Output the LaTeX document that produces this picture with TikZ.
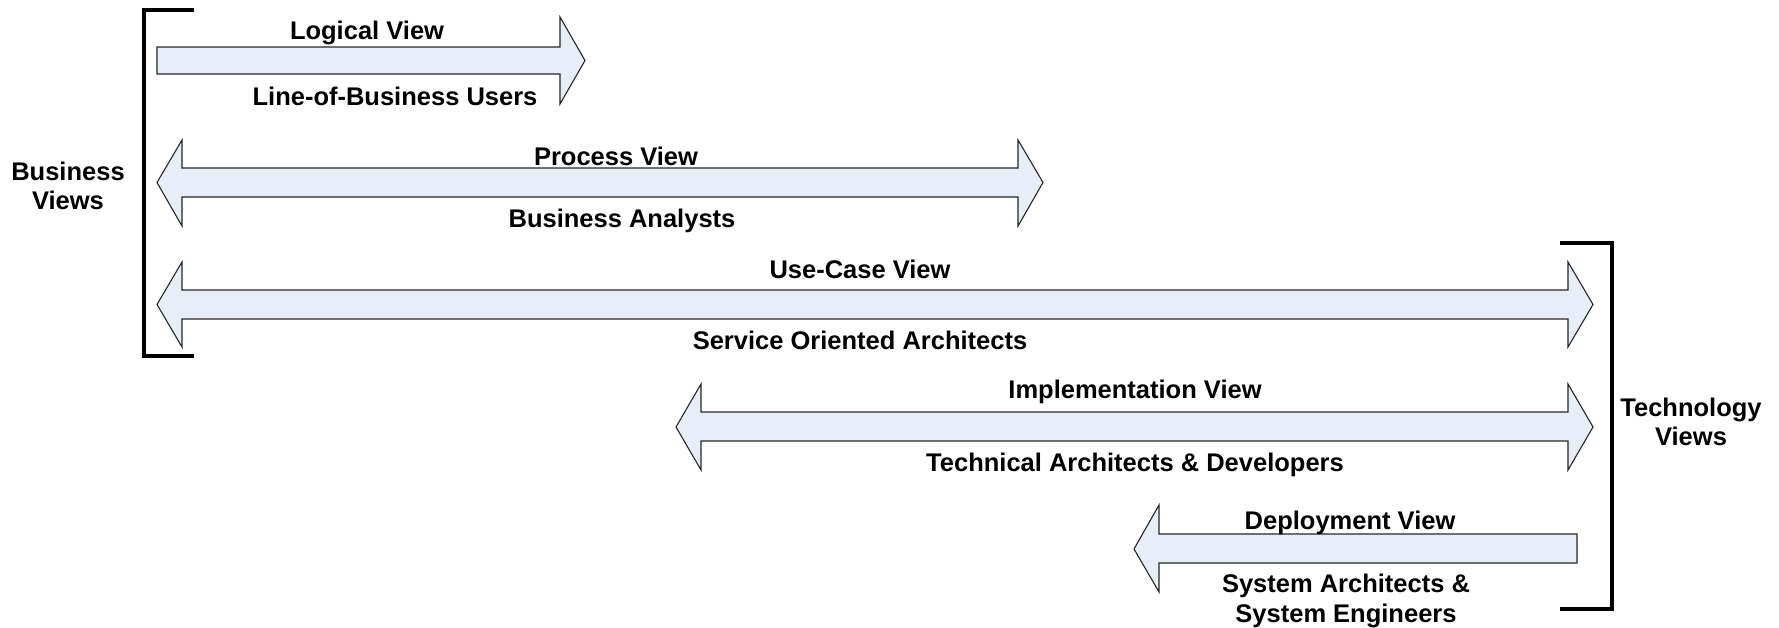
\documentclass[tikz,border=0pt]{standalone}
\usepackage{fontspec}
\setmainfont{Liberation Sans}
\definecolor{arrowfill}{RGB}{232,238,248}
\begin{document}
\begin{tikzpicture}[x=1pt,y=-1pt,
  arrowshape/.style={draw=black!85,line width=1.1pt,fill=arrowfill,line join=miter},
  bracketline/.style={draw=black,line width=4pt,line cap=butt,line join=miter},
  lbl/.style={font=\fontsize{25.5}{29.5}\selectfont\bfseries,inner sep=0pt,align=center}]
\useasboundingbox (0,0) rectangle (1779,627);
% brackets
\draw[bracketline] (194,10) -- (144,10) -- (144,356) -- (194,356);
\draw[bracketline] (1560,243) -- (1612,243) -- (1612,609) -- (1560,609);
% arrows
\path[arrowshape] (157,47) -- (560,47) -- (560,17) -- (585,60.5) -- (560,104) -- (560,74) -- (157,74) -- cycle;
\path[arrowshape] (157,182.5) -- (182,140) -- (182,168) -- (1018,168) -- (1018,140) -- (1043,182.5) -- (1018,226) -- (1018,197) -- (182,197) -- (182,226) -- cycle;
\path[arrowshape] (157,304.5) -- (182,262) -- (182,290) -- (1568,290) -- (1568,262) -- (1593,304.5) -- (1568,347) -- (1568,319) -- (182,319) -- (182,347) -- cycle;
\path[arrowshape] (676,427) -- (701,384) -- (701,412) -- (1568,412) -- (1568,384) -- (1593,427) -- (1568,470) -- (1568,441) -- (701,441) -- (701,470) -- cycle;
\path[arrowshape] (1134,549) -- (1159,505) -- (1159,534) -- (1577,534) -- (1577,563) -- (1159,563) -- (1159,592) -- cycle;
% labels
\node[lbl] (logical) at (367,33) {Logical View};
\node[lbl] (lob) at (395,96) {Line-of-Business Users};
\node[lbl] (process) at (616,156) {Process View};
\node[lbl] (ba) at (622,221) {Business Analysts};
\node[lbl] (usecase) at (860,269) {Use-Case View};
\node[lbl] (soa) at (860,340) {Service Oriented Architects};
\node[lbl] (impl) at (1135,392) {Implementation View};
\node[lbl] (tad) at (1135,465) {Technical Architects \& Developers};
\node[lbl] (deploy) at (1350,523) {Deployment View};
\node[lbl] (sase) at (1346,601) {System Architects \&\\System Engineers};
\node[lbl] (bv) at (68,186) {Business\\Views};
\node[lbl] (tv) at (1691,422) {Technology\\Views};
\end{tikzpicture}
\end{document}
